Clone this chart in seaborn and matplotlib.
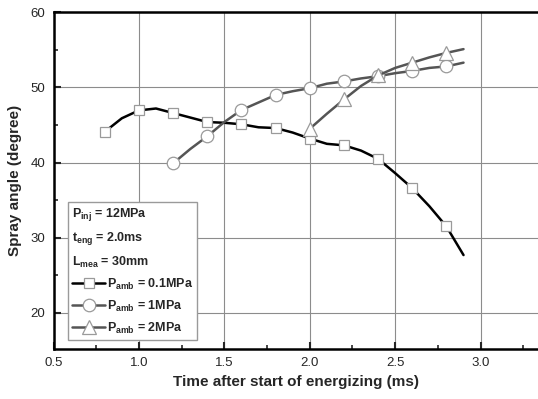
import numpy as np
import pandas as pd
import matplotlib
matplotlib.use("Agg")
import matplotlib.pyplot as plt
import seaborn as sns
from matplotlib.lines import Line2D
from matplotlib.ticker import MultipleLocator

# data (line every 0.1 ms, markers every 0.2 ms)
t_01 = [0.8, 0.9, 1.0, 1.1, 1.2, 1.3, 1.4, 1.5, 1.6, 1.7, 1.8, 1.9, 2.0,
        2.1, 2.2, 2.3, 2.4, 2.5, 2.6, 2.7, 2.8, 2.9]
angle_01 = [44.1, 45.9, 46.95, 47.2, 46.6, 46.0, 45.4, 45.3, 45.1, 44.7,
            44.6, 44.0, 43.2, 42.5, 42.3, 41.6, 40.5, 38.6, 36.6, 34.2,
            31.5, 27.7]

t_1 = [1.2, 1.3, 1.4, 1.5, 1.6, 1.7, 1.8, 1.9, 2.0, 2.1, 2.2, 2.3, 2.4,
       2.5, 2.6, 2.7, 2.8, 2.9]
angle_1 = [39.9, 41.8, 43.5, 45.4, 47.0, 48.0, 49.0, 49.5, 49.9, 50.5,
           50.8, 51.2, 51.5, 51.9, 52.2, 52.6, 52.8, 53.3]

t_2 = [2.0, 2.1, 2.2, 2.3, 2.4, 2.5, 2.6, 2.7, 2.8, 2.9]
angle_2 = [44.5, 46.5, 48.4, 50.2, 51.6, 52.6, 53.3, 54.0, 54.6, 55.1]

labels = [r"$P_{amb}$ = 0.1MPa", r"$P_{amb}$ = 1MPa", r"$P_{amb}$ = 2MPa"]
conditions = r"$P_{inj}$ = 12MPa" + "\n" + r"$t_{eng}$ = 2.0ms" + "\n" + r"$L_{mea}$ = 30mm"

sns.set_style("white")
plt.rcParams["font.family"] = ["Liberation Sans", "DejaVu Sans"]
plt.rcParams["mathtext.fontset"] = "custom"
plt.rcParams["mathtext.rm"] = "Liberation Sans:bold"
plt.rcParams["mathtext.it"] = "Liberation Sans:bold"
plt.rcParams["mathtext.bf"] = "Liberation Sans:bold"

fig = plt.figure(figsize=(5.38, 3.99), dpi=100)
ax = fig.add_axes([53.5 / 538, 50 / 399, (538 - 53.5) / 538, (386.7 - 50) / 399])

series = [
    (t_01, angle_01, "s", 7.7, "black"),
    (t_1, angle_1, "o", 9.0, "#555555"),
    (t_2, angle_2, "^", 9.5, "#555555"),
]
handles = []
for (t, a, mk, ms, col), lab in zip(series, labels):
    df = pd.DataFrame({"t": t, "angle": a})
    sns.lineplot(data=df, x="t", y="angle", ax=ax, color=col, lw=1.8,
                 marker=mk, markersize=ms, markevery=2, markerfacecolor="white",
                 markeredgecolor="#9a9a9a", markeredgewidth=0.9, zorder=3)
    handles.append(Line2D([], [], color=col, lw=1.8, marker=mk, markersize=ms,
                          markerfacecolor="white", markeredgecolor="#9a9a9a",
                          markeredgewidth=0.9))

ax.set_xlim(0.5, 3.336)
ax.set_ylim(15.2, 60)
ax.xaxis.set_major_locator(MultipleLocator(0.5))
ax.xaxis.set_minor_locator(MultipleLocator(0.25))
ax.yaxis.set_major_locator(MultipleLocator(10))
ax.yaxis.set_minor_locator(MultipleLocator(5))
ax.set_yticks([20, 30, 40, 50, 60])
ax.set_xticks([0.5, 1.0, 1.5, 2.0, 2.5, 3.0])
ax.set_xticklabels(["0.5", "1.0", "1.5", "2.0", "2.5", "3.0"])
ax.grid(True, which="major", color="#8c8c8c", lw=0.8)
ax.tick_params(which="major", direction="in", length=5, width=1.5, labelsize=9.5, pad=6)
ax.tick_params(which="minor", direction="in", length=3, width=1.2)
ax.tick_params(axis="y", which="both", left=True)
ax.tick_params(axis="x", which="both", bottom=True)
for s in ["left", "top", "bottom"]:
    ax.spines[s].set_linewidth(1.8)
    ax.spines[s].set_color("black")
ax.spines["right"].set_visible(False)

ax.set_xlabel("Time after start of energizing (ms)", fontsize=11, fontweight="bold", labelpad=4)
ax.set_ylabel("Spray angle (degree)", fontsize=11, fontweight="bold", labelpad=6)

leg = ax.legend(handles, labels, title=conditions, alignment="left",
                loc="lower left", bbox_to_anchor=(68 / 538, 59 / 399),
                bbox_transform=fig.transFigure, borderaxespad=0,
                prop={"weight": "bold", "size": 9},
                title_fontproperties={"weight": "bold", "size": 9},
                handlelength=2.6, handletextpad=0.15, labelspacing=0.55,
                borderpad=0.35, fancybox=False, framealpha=1, edgecolor="#9a9a9a")
leg.get_frame().set_linewidth(1.0)
leg.get_title().set_linespacing(1.65)

fig.savefig("out.png", dpi=100)
